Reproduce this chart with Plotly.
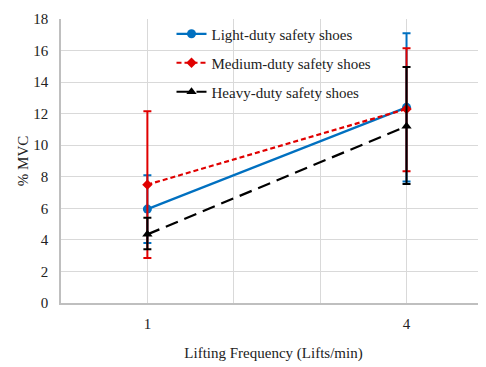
import plotly.graph_objects as go

freq = [1, 4]
light = [5.95, 12.4]
light_err = [2.15, 4.7]
medium = [7.5, 12.3]
medium_err_plus = [4.65, 3.85]
medium_err_minus = [4.65, 3.95]
heavy = [4.35, 11.2]
heavy_err_plus = [1.05, 3.75]
heavy_err_minus = [0.95, 3.65]

x_tickvals = [0, 1, 2, 3, 4]
x_ticktext = ["", "1", "", "", "4"]
y_tickvals = [0, 2, 4, 6, 8, 10, 12, 14, 16, 18]

FONT = "'Liberation Serif', 'Times New Roman', Times, serif"
FS = 15

fig = go.Figure()
fig.add_trace(go.Scatter(
    x=freq, y=light, name="Light-duty safety shoes", mode="lines+markers",
    line=dict(color="#0070C0", width=2.2),
    marker=dict(symbol="circle", size=9, color="#0070C0"),
    error_y=dict(type="data", array=light_err, color="#0070C0", thickness=2, width=4),
    legend="legend",
))
fig.add_trace(go.Scatter(
    x=freq, y=medium, name="Medium-duty safety shoes", mode="lines+markers",
    line=dict(color="#E00000", width=2.2, dash="5px,3px"),
    marker=dict(symbol="diamond", size=8, color="#E00000"),
    error_y=dict(type="data", array=medium_err_plus, arrayminus=medium_err_minus,
                 color="#E00000", thickness=2, width=4),
    legend="legend2",
))
fig.add_trace(go.Scatter(
    x=freq, y=heavy, name="Heavy-duty safety shoes", mode="lines+markers",
    line=dict(color="black", width=2.2, dash="13px,7px"),
    marker=dict(symbol="triangle-up", size=9, color="black"),
    error_y=dict(type="data", array=heavy_err_plus, arrayminus=heavy_err_minus,
                 color="black", thickness=2, width=4),
    legend="legend3",
))

def leg(y):
    return dict(x=0.26, y=y, xanchor="left", yanchor="middle",
                bgcolor="rgba(255,255,255,0)", font=dict(family=FONT, size=FS, color="#222"),
                itemwidth=30)

# the page body adds an 8px offset; margins compensate for it
fig.update_layout(
    width=478, height=359,
    margin=dict(l=53, r=0, t=11, b=64),
    paper_bgcolor="white", plot_bgcolor="white",
    font=dict(family=FONT, size=FS, color="#222"),
    legend=leg(0.947), legend2=leg(0.845), legend3=leg(0.743),
    showlegend=True,
)
fig.update_xaxes(
    range=[0, 4.92], tickvals=x_tickvals, ticktext=x_ticktext,
    showgrid=True, gridcolor="#D9D9D9", gridwidth=1,
    showline=True, linecolor="#BFBFBF", linewidth=1.5,
    zeroline=False, ticks="", tickfont=dict(family=FONT, size=FS), automargin=False,
    ticklabelstandoff=6,
    title=dict(text="Lifting Frequency (Lifts/min)", font=dict(family=FONT, size=FS), standoff=17),
)
fig.update_yaxes(
    range=[0, 18], tickvals=y_tickvals,
    showgrid=True, gridcolor="#D9D9D9", gridwidth=1,
    showline=True, linecolor="#BFBFBF", linewidth=1.5,
    zeroline=False, ticks="", tickfont=dict(family=FONT, size=FS), automargin=False,
    ticklabelstandoff=8,
    title=dict(text="% MVC", font=dict(family=FONT, size=FS), standoff=1),
)

fig.write_html("out.html")
